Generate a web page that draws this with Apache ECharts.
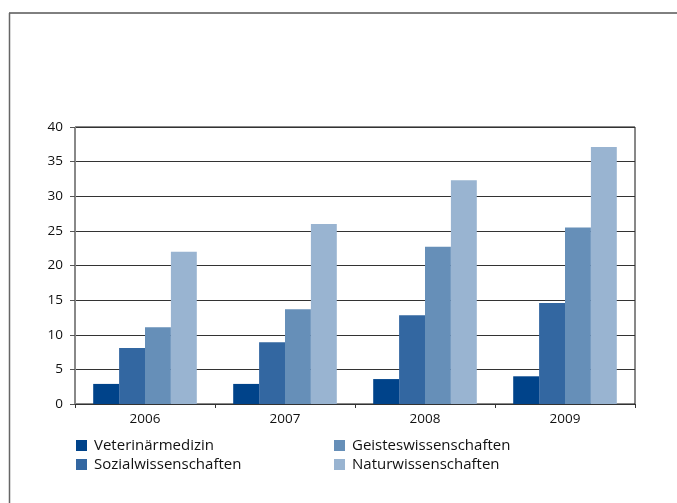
<!DOCTYPE html>
<html>
<head>
<meta charset="utf-8">
<script src="https://cdn.jsdelivr.net/npm/echarts@6/dist/echarts.min.js"></script>
<style>
html,body{margin:0;padding:0;background:#fff;}
#c{width:677px;height:503px;}
</style>
</head>
<body>
<div id="c"></div>
<script>
var categories = ['2006', '2007', '2008', '2009'];
var seriesNames = ['Veterinärmedizin', 'Sozialwissenschaften', 'Geisteswissenschaften', 'Naturwissenschaften'];
var veterinaermedizin = [2.9, 2.9, 3.6, 4.0];
var sozialwissenschaften = [8.1, 8.9, 12.8, 14.6];
var geisteswissenschaften = [11.1, 13.7, 22.7, 25.5];
var naturwissenschaften = [22.0, 26.0, 32.3, 37.1];
var yTicks = [0, 5, 10, 15, 20, 25, 30, 35, 40];

var colors = ['#00438a', '#3367a1', '#668fb8', '#99b4d1'];
var values = [veterinaermedizin, sozialwissenschaften, geisteswissenschaften, naturwissenschaften];
var font = 'Open Sans';

function legendCol(names, left) {
  return {
    data: names,
    orient: 'vertical', left: left, top: 436, padding: 0,
    itemWidth: 11, itemHeight: 11, itemGap: 0, icon: 'rect',
    textStyle: {fontFamily: font, fontSize: 15, lineHeight: 19, color: '#111', padding: [0, 0, 0, 2]}
  };
}

var chart = echarts.init(document.getElementById('c'), null, {renderer: 'canvas'});
chart.setOption({
  animation: false,
  color: colors,
  textStyle: {fontFamily: font},
  grid: {left: 75, right: 42, top: 127, bottom: 99, show: true, borderColor: '#111', borderWidth: 1, backgroundColor: 'transparent'},
  legend: [legendCol([seriesNames[0], seriesNames[1]], 76), legendCol([seriesNames[2], seriesNames[3]], 334)],
  xAxis: {
    type: 'category', data: categories,
    axisLine: {lineStyle: {color: '#333', width: 1}},
    axisTick: {show: true, alignWithLabel: false, length: 4, lineStyle: {color: '#333'}},
    axisLabel: {fontFamily: font, fontSize: 13.5, color: '#111', margin: 8}
  },
  yAxis: {
    type: 'value', min: 0, max: 40, interval: 5,
    axisLine: {show: true, lineStyle: {color: '#888', width: 1}},
    axisTick: {show: true, length: 5, lineStyle: {color: '#555'}},
    axisLabel: {fontFamily: font, fontSize: 13.5, color: '#111', margin: 12,
      formatter: function (v) { return yTicks.indexOf(v) >= 0 ? String(v) : ''; }},
    splitLine: {show: true, lineStyle: {color: '#333', width: 1}}
  },
  series: values.map(function (d, i) {
    return {
      name: seriesNames[i], type: 'bar', data: d,
      barGap: '0%', barCategoryGap: '26%',
      itemStyle: {color: colors[i]}
    };
  }),
  graphic: [
    {type: 'line', shape: {x1: 9, y1: 13, x2: 677, y2: 13}, style: {stroke: '#000', lineWidth: 1}},
    {type: 'line', shape: {x1: 9.5, y1: 13, x2: 9.5, y2: 503}, style: {stroke: '#666', lineWidth: 1.5}}
  ]
});
</script>
</body>
</html>
